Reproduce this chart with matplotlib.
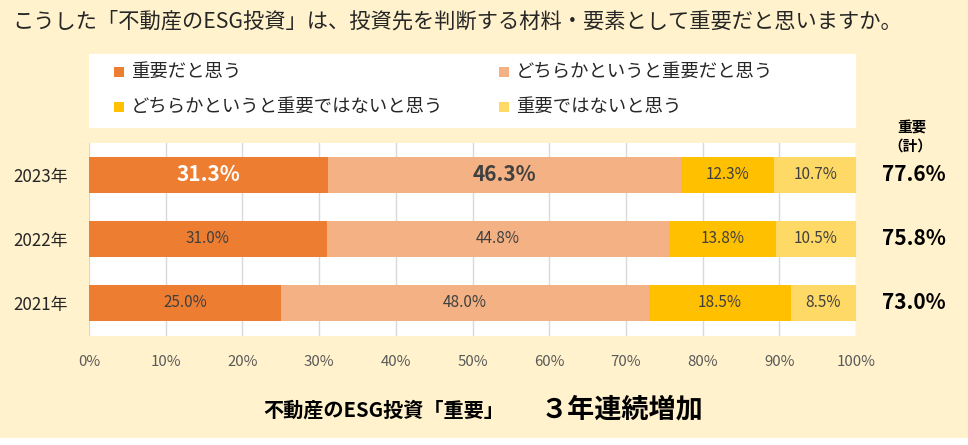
import matplotlib
matplotlib.use("Agg")
import matplotlib.pyplot as plt
from matplotlib.patches import Rectangle
import numpy as np

plt.rcParams['font.family'] = ['Noto Sans CJK JP', 'DejaVu Sans']

years = ["2021年", "2022年", "2023年"]
series_names = ["重要だと思う", "どちらかというと重要だと思う",
                "どちらかというと重要ではないと思う", "重要ではないと思う"]
s1 = [25.0, 31.0, 31.3]
s2 = [48.0, 44.8, 46.3]
s3 = [18.5, 13.8, 12.3]
s4 = [8.5, 10.5, 10.7]
totals = ["73.0%", "75.8%", "77.6%"]
xticks = [0, 10, 20, 30, 40, 50, 60, 70, 80, 90, 100]
title = "こうした「不動産のESG投資」は、投資先を判断する材料・要素として重要だと思いますか。"
colors = ["#ED7D31", "#F4B183", "#FFC000", "#FFD966"]
bg = "#FFF2CC"

W, H = 968, 445
fig = plt.figure(figsize=(W / 100, H / 100), dpi=100)
fig.patch.set_facecolor("white")
fig.patches.append(Rectangle((0, 7 / H), 1, 1 - 7 / H, transform=fig.transFigure,
                             facecolor=bg, edgecolor="none", zorder=-10))

def fx(px):
    return px / W

def fy(py):
    return 1 - py / H

# legend box
fig.patches.append(Rectangle((fx(89), fy(128)), fx(856) - fx(89), fy(54) - fy(128),
                             transform=fig.transFigure, facecolor="white",
                             edgecolor="none", zorder=-5))
leg_pos = [(119, 72), (504, 72), (119, 107), (504, 107)]
for (lx, ly), name, c in zip(leg_pos, series_names, colors):
    fig.patches.append(Rectangle((fx(lx - 5), fy(ly + 5)), fx(10), 10 / H,
                                 transform=fig.transFigure, facecolor=c,
                                 edgecolor="none"))
    fig.text(fx(lx + 12), fy(ly), name, fontsize=13.2, color="#262626",
             va="center", ha="left")

fig.text(fx(12), fy(22), title, fontsize=15.3, color="#262626", va="center", ha="left")

ax = fig.add_axes([fx(89), fy(336), fx(856) - fx(89), fy(143) - fy(336)])
ax.set_facecolor("white")
data = np.array([s1, s2, s3, s4])
norm = data / data.sum(axis=0) * 100
y = np.arange(len(years))
left = np.zeros(len(years))
for i in range(4):
    ax.barh(y, norm[i], left=left, height=0.5625, color=colors[i], zorder=3)
    for j in range(len(years)):
        cx = left[j] + norm[i][j] / 2
        txt = f"{data[i][j]:.1f}%"
        if j == 2 and i == 0:
            ax.text(cx, y[j], txt, ha="center", va="center", color="white",
                    fontsize=15, fontweight="bold", zorder=4)
        elif j == 2 and i == 1:
            ax.text(cx, y[j], txt, ha="center", va="center", color="#404040",
                    fontsize=15, fontweight="bold", zorder=4)
        else:
            ax.text(cx, y[j], txt, ha="center", va="center", color="#404040",
                    fontsize=11, zorder=4)
    left += norm[i]

ax.set_xlim(0, 100)
ax.set_ylim(-0.516, 2.5)
ax.set_xticks(xticks)
ax.set_xticklabels([f"{t}%" for t in xticks], color="#595959", fontsize=10.8)
ax.set_yticks(y)
ax.set_yticklabels(years, fontsize=12.2, color="#262626")
ax.tick_params(axis="both", length=0)
ax.tick_params(axis="x", pad=14)
ax.tick_params(axis="y", pad=15)
ax.grid(axis="x", color="#D9D9D9", linewidth=1, zorder=0)
for s in ax.spines.values():
    s.set_visible(False)

# totals
fig.text(fx(912), fy(128), "重要", fontsize=10.5, fontweight="bold",
         color="#000000", ha="center", va="center")
fig.text(fx(910), fy(146), "（計）", fontsize=10.5, fontweight="bold",
         color="#000000", ha="center", va="center")
for j, t in enumerate(totals):
    ax.text(1.075, y[j], t, transform=ax.get_yaxis_transform(), ha="center",
            va="center", fontsize=15, fontweight="bold", color="#000000")

fig.text(fx(384), fy(410), "不動産のESG投資「重要」", fontsize=14.5, fontweight="bold",
         color="#000000", ha="center", va="center")
fig.text(fx(622), fy(409), "３年連続増加", fontsize=19.5, fontweight="bold",
         color="#000000", ha="center", va="center")

fig.savefig("out.png", dpi=100, facecolor=fig.get_facecolor())
